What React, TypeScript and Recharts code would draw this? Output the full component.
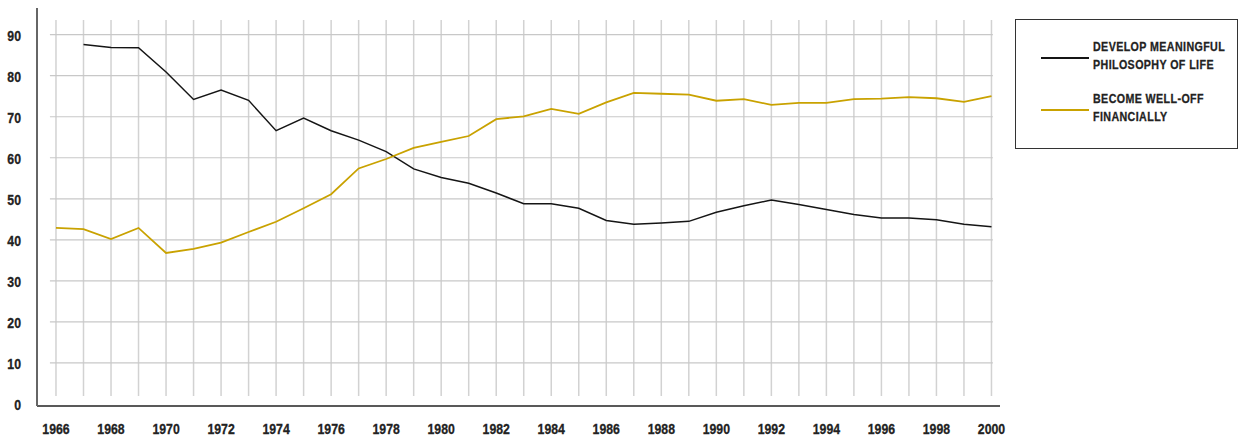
import React from 'react';
import { LineChart, Line, XAxis, YAxis, ReferenceLine, Legend } from 'recharts';

const years = [1966, 1967, 1968, 1969, 1970, 1971, 1972, 1973, 1974, 1975, 1976, 1977, 1978, 1979, 1980, 1981, 1982, 1983, 1984, 1985, 1986, 1987, 1988, 1989, 1990, 1991, 1992, 1993, 1994, 1995, 1996, 1997, 1998, 1999, 2000];
const philosophy = [null, 87.6, 86.9, 86.8, 80.9, 74.2, 76.5, 74.0, 66.6, 69.7, 66.6, 64.3, 61.5, 57.3, 55.2, 53.8, 51.4, 48.8, 48.8, 47.7, 44.7, 43.8, 44.1, 44.5, 46.7, 48.3, 49.7, 48.6, 47.4, 46.2, 45.3, 45.3, 44.9, 43.8, 43.2];
const wellOff = [42.9, 42.6, 40.2, 42.9, 36.8, 37.8, 39.3, 41.9, 44.4, 47.7, 51.1, 57.4, 59.7, 62.4, 63.9, 65.3, 69.4, 70.1, 71.9, 70.7, 73.5, 75.8, 75.6, 75.4, 73.9, 74.3, 72.9, 73.4, 73.4, 74.3, 74.4, 74.8, 74.5, 73.6, 75.0];
const xTicks = [1966, 1968, 1970, 1972, 1974, 1976, 1978, 1980, 1982, 1984, 1986, 1988, 1990, 1992, 1994, 1996, 1998, 2000];
const yTicks = [0, 10, 20, 30, 40, 50, 60, 70, 80, 90];
const gridRows = [10, 20, 30, 40, 50, 60, 70, 80, 90];
const seriesOrder = ['philosophy', 'wellOff'];
const legendLabels: Record<string, string[]> = {
  philosophy: ['DEVELOP MEANINGFUL', 'PHILOSOPHY OF LIFE'],
  wellOff: ['BECOME WELL-OFF', 'FINANCIALLY'],
};

const data = years.map((y, i) => ({ year: y, philosophy: philosophy[i], wellOff: wellOff[i] }));

const FONT = '"Liberation Sans", Arial, sans-serif';
const BLACK = '#151515';
const GOLD = '#c9a200';
const SQUEEZE = 0.82;

const XTick = (props: any) => {
  const { x, y, payload } = props;
  return (
    <g transform={`translate(${x},${y}) scale(${SQUEEZE},1)`}>
      <text x={0} y={0} dy="0.71em" textAnchor="middle" fill="#222" stroke="#222" strokeWidth={0.3} fontFamily={FONT} fontWeight="bold" fontSize={15}>
        {payload.value}
      </text>
    </g>
  );
};

const YTick = (props: any) => {
  const { x, y, payload } = props;
  return (
    <g transform={`translate(${x},${y}) scale(${SQUEEZE},1)`}>
      <text x={0} y={0} dy="0.4em" textAnchor="end" fill="#222" stroke="#222" strokeWidth={0.3} fontFamily={FONT} fontWeight="bold" fontSize={15}>
        {payload.value}
      </text>
    </g>
  );
};

const LegendBox = (props: any) => {
  const payload = [...(props.payload || [])].sort(
    (a: any, b: any) => seriesOrder.indexOf(a.dataKey) - seriesOrder.indexOf(b.dataKey)
  );
  return (
    <div
      style={{
        position: 'relative',
        width: 223,
        height: 130,
        border: '1px solid #333',
        boxSizing: 'border-box',
        background: '#fff',
        fontFamily: FONT,
        fontWeight: 'bold',
        fontSize: 13,
        color: '#222',
      }}
    >
      {payload.map((p: any, i: number) => {
        const lines = legendLabels[p.dataKey] || [String(p.value)];
        const top = 18 + i * 52;
        return (
          <div key={i}>
            <div
              style={{
                position: 'absolute',
                left: 25,
                top: top + 19,
                width: 48,
                height: 2,
                background: p.color,
              }}
            />
            {lines.map((t, j) => (
              <div
                key={j}
                style={{
                  position: 'absolute',
                  left: 77,
                  top: top + j * 18,
                  lineHeight: '18px',
                  whiteSpace: 'nowrap',
                  letterSpacing: 0.5,
                  WebkitTextStroke: '0.3px #222',
                  transform: `scaleX(${SQUEEZE})`,
                  transformOrigin: 'left center',
                }}
              >
                {t}
              </div>
            ))}
          </div>
        );
      })}
    </div>
  );
};

export default function App() {
  return (
    <div style={{ position: 'absolute', left: 0, top: 0, width: 1239, height: 438, background: '#fff' }}>
      <LineChart width={1239} height={438} data={data} margin={{ top: 8, right: 239, bottom: 0, left: 0 }}>
        {years.map((y) => (
          <ReferenceLine
            key={'v' + y}
            segment={[{ x: y, y: 1.93 }, { x: y, y: 93.6 }]}
            stroke="#d2d2d2"
            strokeWidth={1.5}
          />
        ))}
        {gridRows.map((v) => (
          <ReferenceLine
            key={'h' + v}
            segment={[{ x: 1965.78, y: v }, { x: 2000.05, y: v }]}
            stroke="#c8c8c8"
            strokeWidth={1.2}
          />
        ))}
        <XAxis
          dataKey="year"
          type="number"
          domain={[1965.31, 2000.31]}
          ticks={xTicks}
          interval={0}
          height={32}
          tickSize={0}
          tickMargin={17}
          tickLine={false}
          axisLine={{ stroke: '#222', strokeWidth: 1.5 }}
          tick={<XTick />}
          allowDataOverflow
        />
        <YAxis
          type="number"
          domain={[-0.5, 96.5]}
          ticks={yTicks}
          interval={0}
          width={37}
          tickSize={0}
          tickMargin={16}
          tickLine={false}
          axisLine={{ stroke: '#666', strokeWidth: 2 }}
          tick={<YTick />}
          allowDataOverflow
        />
        <Line
          dataKey="philosophy"
          name="DEVELOP MEANINGFUL PHILOSOPHY OF LIFE"
          stroke={BLACK}
          strokeWidth={1.5}
          dot={false}
          isAnimationActive={false}
        />
        <Line
          dataKey="wellOff"
          name="BECOME WELL-OFF FINANCIALLY"
          stroke={GOLD}
          strokeWidth={1.8}
          dot={false}
          isAnimationActive={false}
        />
        <Legend
          layout="horizontal"
          verticalAlign="middle"
          align="center"
          content={<LegendBox />}
          wrapperStyle={{ left: 1015, top: 19, width: 223, height: 130 }}
        />
      </LineChart>
    </div>
  );
}
